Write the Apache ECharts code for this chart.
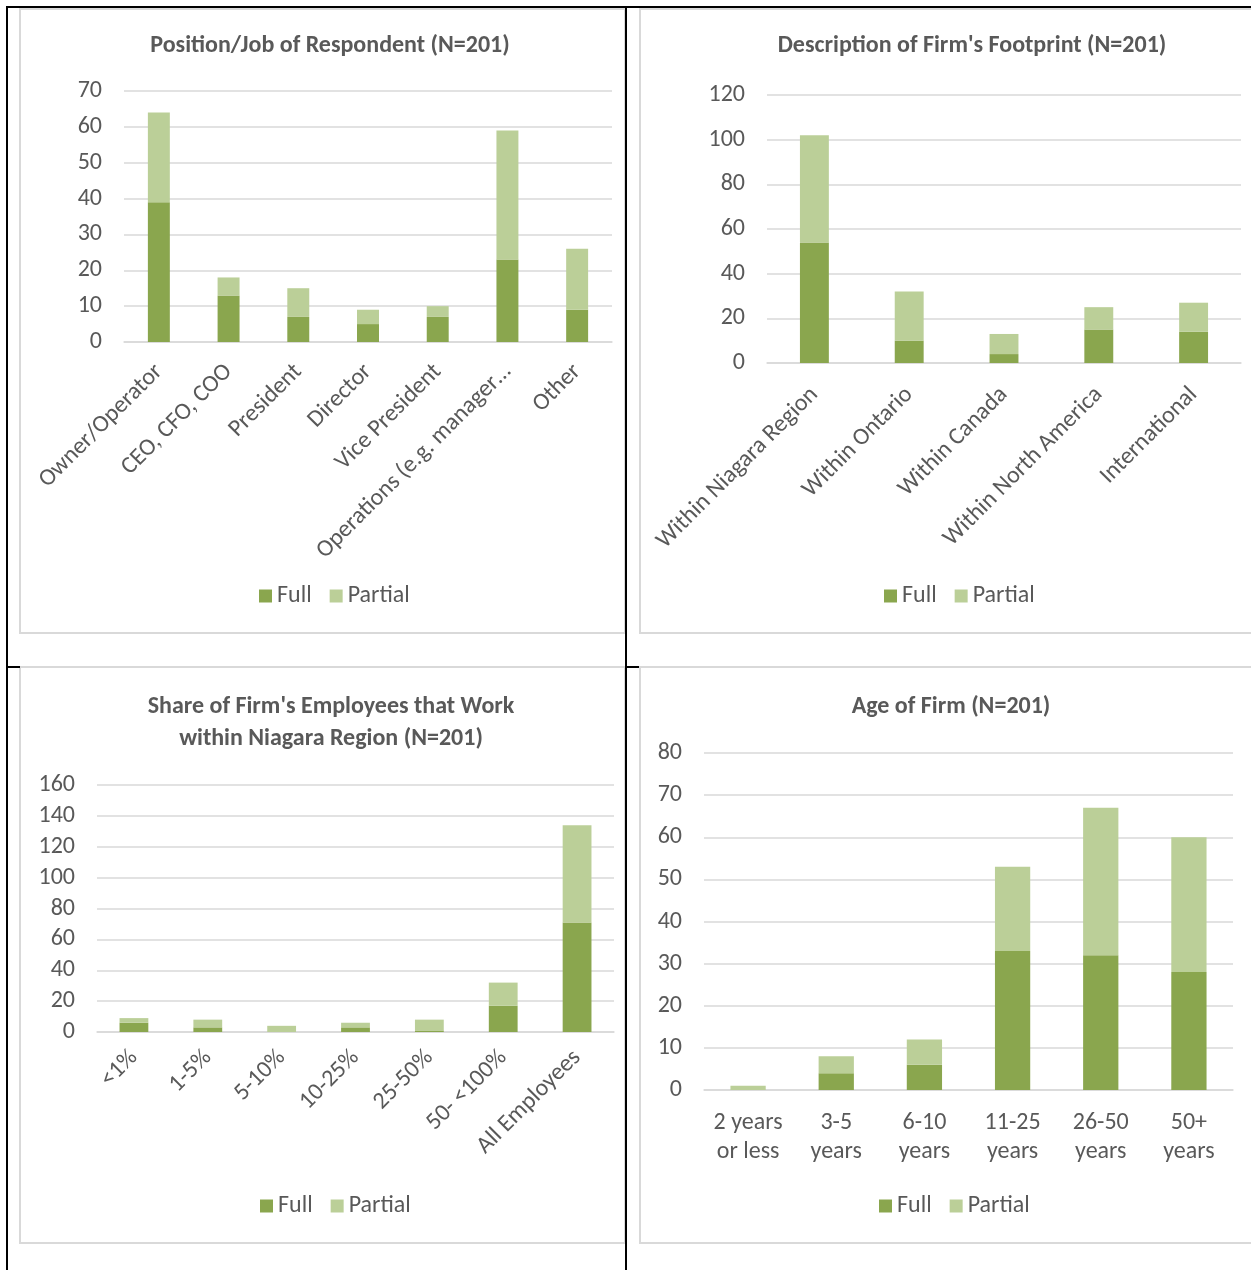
<!DOCTYPE html>
<html>
<head>
<meta charset="utf-8">
<script src="https://cdn.jsdelivr.net/npm/echarts@6/dist/echarts.min.js"></script>
<style>
  html, body { margin: 0; padding: 0; background: #fff; }
  body { width: 1251px; height: 1270px; position: relative; overflow: hidden; }
  .box { position: absolute; box-sizing: border-box; border: 2px solid #d9d9d9; }
  .blk { position: absolute; background: #000; }
  #chart { position: absolute; left: 0; top: 0; width: 1251px; height: 1270px; z-index: 2; }
</style>
</head>
<body>
<div class="box" style="left:19px;top:8px;width:607px;height:626px;"></div>
<div class="box" style="left:639px;top:8px;width:630px;height:626px;"></div>
<div class="box" style="left:19px;top:666px;width:607px;height:578px;"></div>
<div class="box" style="left:639px;top:666px;width:630px;height:578px;"></div>
<div class="blk" style="left:6px;top:6px;width:1245px;height:2px;"></div>
<div class="blk" style="left:6px;top:6px;width:2px;height:1264px;"></div>
<div class="blk" style="left:625px;top:6px;width:2px;height:1264px;"></div>
<div class="blk" style="left:6px;top:666px;width:14px;height:2px;"></div>
<div class="blk" style="left:625px;top:666px;width:14px;height:2px;"></div>
<div id="chart"></div>
<script>
// ---------- data ----------
const jobCats = ['Owner/Operator', 'CEO, CFO, COO', 'President', 'Director', 'Vice President', 'Operations (e.g. manager…', 'Other'];
const jobFull = [39, 13, 7, 5, 7, 23, 9];
const jobPartial = [25, 5, 8, 4, 3, 36, 17];
const jobAxis = { max: 70, interval: 10 };

const footCats = ['Within Niagara Region', 'Within Ontario', 'Within Canada', 'Within North America', 'International'];
const footFull = [54, 10, 4, 15, 14];
const footPartial = [48, 22, 9, 10, 13];
const footAxis = { max: 120, interval: 20 };

const shareCats = ['<1%', '1-5%', '5-10%', '10-25%', '25-50%', '50- <100%', 'All Employees'];
const shareFull = [6, 3, 0, 3, 1, 17, 71];
const sharePartial = [3, 5, 4, 3, 7, 15, 63];
const shareAxis = { max: 160, interval: 20 };

const ageCats = ['2 years\nor less', '3-5\nyears', '6-10\nyears', '11-25\nyears', '26-50\nyears', '50+\nyears'];
const ageFull = [0, 4, 6, 33, 32, 28];
const agePartial = [1, 4, 6, 20, 35, 32];
const ageAxis = { max: 80, interval: 10 };

const titles = [
  'Position/Job of Respondent (N=201)',
  "Description of Firm's Footprint (N=201)",
  "Share of Firm's Employees that Work\nwithin Niagara Region (N=201)",
  'Age of Firm (N=201)'
];
const seriesNames = ['Full', 'Partial'];

// ---------- style ----------
const FONT = "Carlito, Calibri, Lato, sans-serif";
const TXT = '#595959';
const GRIDC = '#d9d9d9';
const C_FULL = '#8aa64e';
const C_PART = '#bbcf98';
const FS = 24;

const panels = [
  { cats: jobCats, full: jobFull, part: jobPartial, ax: jobAxis,
    grid: { left: 124, top: 91, width: 488, height: 251 }, rotate: 45, margin: 26, barWidth: '31.5%',
    title: { x: 330, y: 46 }, legend: { x: 259, y: 597 } },
  { cats: footCats, full: footFull, part: footPartial, ax: footAxis,
    grid: { left: 767, top: 95, width: 474, height: 268 }, rotate: 45, margin: 28, barWidth: '30.5%',
    title: { x: 972, y: 46 }, legend: { x: 884, y: 597 } },
  { cats: shareCats, full: shareFull, part: sharePartial, ax: shareAxis,
    grid: { left: 97, top: 785, width: 517, height: 247 }, rotate: 45, margin: 22, barWidth: '39%',
    title: { x: 331, y: 723 }, legend: { x: 260, y: 1207 } },
  { cats: ageCats, full: ageFull, part: agePartial, ax: ageAxis,
    grid: { left: 704, top: 753, width: 529, height: 337 }, rotate: 0, margin: 18, barWidth: '40%',
    title: { x: 951, y: 707 }, legend: { x: 879, y: 1207 } }
];

const option = {
  animation: false,
  backgroundColor: 'transparent',
  textStyle: { fontFamily: FONT },
  title: [], legend: [], grid: [], xAxis: [], yAxis: [], series: []
};

panels.forEach((p, i) => {
  option.title.push({
    text: titles[i], left: p.title.x, top: p.title.y, padding: 0,
    textAlign: 'center', textVerticalAlign: 'middle',
    textStyle: { fontFamily: FONT, fontSize: 24, fontWeight: 'bold', color: TXT, lineHeight: 32 }
  });
  option.legend.push({
    data: seriesNames, left: p.legend.x, top: p.legend.y - 13, padding: 0,
    icon: 'rect', itemWidth: 13, itemHeight: 13, itemGap: 18,
    textStyle: { fontFamily: FONT, fontSize: FS, color: TXT }
  });
  option.grid.push(Object.assign({ containLabel: false }, p.grid));
  option.xAxis.push({
    type: 'category', gridIndex: i, data: p.cats,
    axisLine: { show: true, lineStyle: { color: GRIDC, width: 1.5 } },
    axisTick: { show: false },
    axisLabel: {
      interval: 0, rotate: p.rotate, margin: p.margin,
      fontFamily: FONT, fontSize: FS, color: TXT, lineHeight: 29
    }
  });
  option.yAxis.push({
    type: 'value', gridIndex: i, min: 0, max: p.ax.max, interval: p.ax.interval,
    axisLine: { show: false }, axisTick: { show: false },
    splitLine: { lineStyle: { color: GRIDC, width: 1.5 } },
    axisLabel: { margin: 22, fontFamily: FONT, fontSize: FS, color: TXT }
  });
  option.series.push({
    name: 'Full', type: 'bar', stack: 's' + i, xAxisIndex: i, yAxisIndex: i,
    data: p.full, barWidth: p.barWidth, itemStyle: { color: C_FULL }
  });
  option.series.push({
    name: 'Partial', type: 'bar', stack: 's' + i, xAxisIndex: i, yAxisIndex: i,
    data: p.part, barWidth: p.barWidth, itemStyle: { color: C_PART }
  });
});

const chart = echarts.init(document.getElementById('chart'), null, { renderer: 'canvas' });
chart.setOption(option);
</script>
</body>
</html>
